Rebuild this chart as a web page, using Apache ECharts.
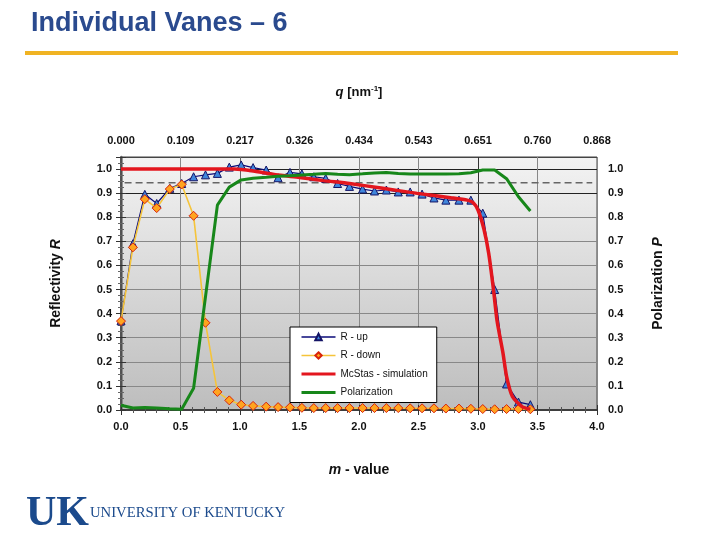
<!DOCTYPE html>
<html>
<head>
<meta charset="utf-8">
<script src="https://cdn.jsdelivr.net/npm/echarts@6/dist/echarts.min.js"></script>
<style>
html,body{margin:0;padding:0;background:#fff;}
#chart{width:720px;height:540px;}
</style>
</head>
<body>
<div id="chart"></div>
<script>
// ---- data ----
var mValues = [0.00,0.10,0.20,0.30,0.41,0.51,0.61,0.71,0.81,0.91,1.01,1.11,1.22,1.32,1.42,1.52,1.62,1.72,1.82,1.92,2.03,2.13,2.23,2.33,2.43,2.53,2.63,2.73,2.84,2.94,3.04,3.14,3.24,3.34,3.44];
var rUp = [0.37,0.69,0.895,0.857,0.92,0.94,0.968,0.976,0.982,1.008,1.017,1.006,0.996,0.964,0.986,0.98,0.968,0.961,0.94,0.928,0.917,0.909,0.913,0.905,0.905,0.896,0.88,0.871,0.871,0.871,0.817,0.50,0.108,0.033,0.022];
var rDown = [0.369,0.675,0.875,0.838,0.917,0.936,0.806,0.362,0.075,0.04,0.022,0.017,0.014,0.012,0.011,0.009,0.008,0.008,0.008,0.008,0.008,0.008,0.008,0.008,0.007,0.007,0.007,0.006,0.006,0.005,0.004,0.003,0.004,0.004,0.003];
var polarization = [0.02,0.008,0.01,0.008,0.005,0.003,0.09,0.47,0.85,0.925,0.955,0.962,0.966,0.97,0.972,0.975,0.978,0.982,0.978,0.976,0.98,0.984,0.986,0.982,0.979,0.979,0.979,0.979,0.98,0.985,0.996,0.996,0.96,0.885,0.826];
var simM = [0,0.95,1.1,1.3,1.5,1.7,1.92,2.2,2.49,2.77,2.91,2.96,3.0,3.05,3.09,3.13,3.16,3.21,3.24,3.29,3.37,3.44];
var simR = [1.0,1.0,0.993,0.976,0.965,0.952,0.94,0.92,0.899,0.881,0.871,0.86,0.83,0.75,0.65,0.5,0.37,0.236,0.14,0.055,0.014,0.003];
var refLineM = [0.03,3.96];
var refLineR = [0.943,0.943];
var qLabels = ['0.000','0.109','0.217','0.326','0.434','0.543','0.651','0.760','0.868'];
var mTicks = [0,0.5,1.0,1.5,2.0,2.5,3.0,3.5,4.0];

function zip(a,b){var r=[];for(var i=0;i<a.length;i++){r.push([a[i],b[i]]);}return r;}

var chart = echarts.init(document.getElementById('chart'), null, {renderer:'canvas'});
var FONT = "'Liberation Sans', Arial, sans-serif";
var SERIF = "'Liberation Serif','DejaVu Serif',serif";
var lbl = {fontFamily:FONT,fontSize:11,fontWeight:'bold',color:'#111'};

var option = {
  backgroundColor:'#ffffff',
  animation:false,
  grid:{left:121,right:123,top:157,bottom:130,show:true,borderColor:'#444',borderWidth:1,
    backgroundColor:new echarts.graphic.LinearGradient(0,0,0,1,[{offset:0,color:'#f3f3f3'},{offset:1,color:'#bdbdbd'}])},
  legend:{
    data:[
      {name:'R - up',lineStyle:{width:1.5}},
      {name:'R - down',lineStyle:{width:1.5}},
      {name:'McStas - simulation',lineStyle:{width:3}},
      {name:'Polarization',lineStyle:{width:3}}
    ],
    orient:'vertical',left:290,top:327,
    backgroundColor:'#ffffff',borderColor:'#000',borderWidth:1,borderRadius:0,
    padding:[5,9,5,10],itemWidth:34,itemHeight:8,itemGap:8.5,
    textStyle:{fontFamily:FONT,fontSize:10,color:'#111'}
  },
  xAxis:[
    {type:'value',position:'bottom',min:0,max:4,interval:0.5,
     name:'{i|m}{b| - value}',nameLocation:'middle',nameGap:53,
     nameTextStyle:{rich:{i:{fontFamily:FONT,fontSize:14,fontWeight:'bold',fontStyle:'italic',color:'#111'},b:{fontFamily:FONT,fontSize:14,fontWeight:'bold',color:'#111'}}},
     axisLine:{show:true,lineStyle:{color:'#555',width:1.5}},
     axisTick:{show:true,inside:true,length:5,lineStyle:{color:'#333'}},
     minorTick:{show:true,splitNumber:5,length:3,lineStyle:{color:'#555'}},
     axisLabel:Object.assign({margin:11,formatter:function(v){return v.toFixed(1);}},lbl),
     splitLine:{show:true,lineStyle:{color:['#888','#888','#666','#888','#888','#888','#333','#888','#888'],width:1}}
    },
    {type:'value',position:'top',min:0,max:4,interval:0.5,
     name:'{i|q}{b| [nm}{s|-1}{b|]}',nameLocation:'middle',nameGap:58,
     nameTextStyle:{rich:{i:{fontFamily:FONT,fontSize:13,fontWeight:'bold',fontStyle:'italic',color:'#111'},b:{fontFamily:FONT,fontSize:13,fontWeight:'bold',color:'#111'},s:{fontFamily:FONT,fontSize:8,fontWeight:'bold',color:'#111',verticalAlign:'top',padding:[0,0,6,0]}}},
     axisLine:{show:true,lineStyle:{color:'#333',width:1.5}},
     axisTick:{show:true,inside:true,length:5,lineStyle:{color:'#333'}},
     minorTick:{show:true,splitNumber:5,length:3,lineStyle:{color:'#555'}},
     axisLabel:Object.assign({margin:11,formatter:function(v){var i=mTicks.indexOf(Math.round(v*10)/10);return i>=0?qLabels[i]:'';}},lbl),
     splitLine:{show:false}
    }
  ],
  yAxis:[
    {type:'value',position:'left',min:0,max:1.05,interval:0.1,
     name:'{b|Reflectivity }{i|R}',nameLocation:'middle',nameRotate:90,nameGap:58,
     nameTextStyle:{rich:{i:{fontFamily:FONT,fontSize:14,fontWeight:'bold',fontStyle:'italic',color:'#111'},b:{fontFamily:FONT,fontSize:14,fontWeight:'bold',color:'#111'}}},
     axisLine:{show:true,lineStyle:{color:'#777',width:2.5}},
     axisTick:{show:true,inside:false,length:5,lineStyle:{color:'#333'}},
     minorTick:{show:true,splitNumber:4,length:3,lineStyle:{color:'#666'}},
     axisLabel:Object.assign({margin:9,showMaxLabel:false,formatter:function(v){return v.toFixed(1);}},lbl),
     splitLine:{show:true,lineStyle:{color:['#888','#888','#888','#888','#888','#888','#888','#888','#888','#222','#222','#444'],width:1}}
    },
    {type:'value',position:'right',min:0,max:1.05,interval:0.1,
     name:'{b|Polarization }{i|P}',nameLocation:'middle',nameRotate:90,nameGap:54,
     nameTextStyle:{rich:{i:{fontFamily:FONT,fontSize:14,fontWeight:'bold',fontStyle:'italic',color:'#111'},b:{fontFamily:FONT,fontSize:14,fontWeight:'bold',color:'#111'}}},
     axisLine:{show:true,lineStyle:{color:'#444',width:1.5}},
     axisTick:{show:true,inside:false,length:5,lineStyle:{color:'#333'}},
     minorTick:{show:true,splitNumber:4,length:3,lineStyle:{color:'#666'}},
     axisLabel:Object.assign({margin:11,showMaxLabel:false,formatter:function(v){return v.toFixed(1);}},lbl),
     splitLine:{show:false}
    }
  ],
  series:[
    {name:'ref',type:'line',xAxisIndex:0,yAxisIndex:0,data:zip(refLineM,refLineR),symbol:'none',silent:true,
     lineStyle:{color:'#666',width:1.6,type:[7,4]},z:1},
    {name:'R - up',type:'line',xAxisIndex:0,yAxisIndex:0,data:zip(mValues,rUp),
     symbol:'triangle',symbolSize:8,
     itemStyle:{color:'#3f86dc',borderColor:'#141466',borderWidth:1},
     lineStyle:{color:'#0a0a78',width:1.2},z:2},
    {name:'R - down',type:'line',xAxisIndex:0,yAxisIndex:0,data:zip(mValues,rDown),
     symbol:'diamond',symbolSize:9,
     itemStyle:{color:'#ffa41f',borderColor:'#d8230a',borderWidth:1},
     lineStyle:{color:'#f5c43a',width:1.6},z:3},
    {name:'McStas - simulation',type:'line',xAxisIndex:0,yAxisIndex:0,data:zip(simM,simR),
     symbol:'line',showSymbol:false,smooth:0.2,itemStyle:{color:'#e3161e'},
     lineStyle:{color:'#e3161e',width:3.5},z:4},
    {name:'Polarization',type:'line',xAxisIndex:0,yAxisIndex:1,data:zip(mValues,polarization),
     symbol:'line',showSymbol:false,itemStyle:{color:'#17871a'},
     lineStyle:{color:'#17871a',width:3},z:5}
  ],
  graphic:[
    {type:'text',left:31,top:10,style:{text:'Individual Vanes \u2013 6',fontFamily:FONT,fontSize:27,fontWeight:'bold',fill:'#2a4a8e'}},
    {type:'rect',shape:{x:25,y:51,width:653,height:4},style:{fill:'#f0b323'}},
    {type:'text',left:26,top:493,style:{text:'UK',fontFamily:SERIF,fontSize:42,fontWeight:'bold',fill:'#1b4a8c'}},
    {type:'text',left:90,top:506,style:{text:'UNIVERSITY OF KENTUCKY',fontFamily:SERIF,fontSize:14.7,fill:'#1b4a8c'}}
  ]
};
chart.setOption(option);
</script>
</body>
</html>
